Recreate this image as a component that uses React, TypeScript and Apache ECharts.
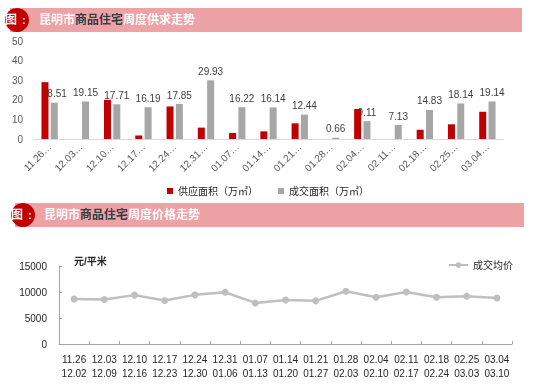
import React, { useEffect, useRef } from "react";
import * as echarts from "echarts";

const weekStarts = ["11.26", "12.03", "12.10", "12.17", "12.24", "12.31", "01.07", "01.14", "01.21", "01.28", "02.04", "02.11", "02.18", "02.25", "03.04"];
const weekEnds = ["12.02", "12.09", "12.16", "12.23", "12.30", "01.06", "01.13", "01.20", "01.27", "02.03", "02.10", "02.17", "02.24", "03.03", "03.10"];
const supplyArea = [29.0, 0, 20.0, 1.8, 16.6, 5.8, 3.1, 3.9, 8.0, 0, 15.3, 0, 4.7, 7.5, 13.9];
const dealArea = [18.51, 19.15, 17.71, 16.19, 17.85, 29.93, 16.22, 16.14, 12.44, 0.66, 9.11, 7.13, 14.83, 18.14, 19.14];
const avgPrice = [8650, 8550, 9400, 8350, 9450, 9950, 7900, 8450, 8300, 10150, 9000, 10000, 9000, 9200, 8850];

const FONT = "'Liberation Sans', 'Noto Sans CJK SC', sans-serif";
const BAND = "#eda2a6";
const DARKRED = "#c00000";

function header(x0: number, y0: number, x1: number, cx: number) {
  return [
    { type: "rect", shape: { x: x0, y: y0, width: x1 - x0, height: 24 }, style: { fill: BAND }, z: 1 },
    { type: "circle", shape: { cx: cx, cy: y0 + 12, r: 12 }, style: { fill: DARKRED }, z: 2 },
    { type: "text", x: cx - 6, y: y0 + 12, style: { text: "图", fill: "#fff", fontSize: 12, fontWeight: "bold", fontFamily: FONT, verticalAlign: "middle", align: "center" }, z: 3 },
    { type: "text", x: cx + 5, y: y0 + 12, style: { text: ":", fill: "#fff", fontSize: 11, fontWeight: "bold", fontFamily: FONT, verticalAlign: "middle", align: "left" }, z: 3 },
  ];
}

export default function App() {
  const ref = useRef<HTMLDivElement>(null);
  useEffect(() => {
    if (!ref.current) return;
    const chart = echarts.init(ref.current, null, { renderer: "svg" });
    const rich = {
      w: { color: "#ffffff", fontSize: 12, fontWeight: "bold", fontFamily: FONT },
      d: { color: "#2f3f44", fontSize: 12, fontWeight: "bold", fontFamily: FONT },
    };
    chart.setOption({
      animation: false,
      textStyle: { fontFamily: FONT },
      title: [
        { text: "{w|昆明市}{d|商品住宅}{w|周度供求走势}", left: 39, top: 14, padding: 0, textStyle: { rich } },
        { text: "{w|昆明市}{d|商品住宅}{w|周度价格走势}", left: 44, top: 209, padding: 0, textStyle: { rich } },
      ],
      graphic: [...header(10, 8, 522, 17), ...header(15, 203, 524, 23),
        { type: "text", x: 74, y: 261, style: { text: "元/平米", fill: "#262626", fontSize: 10, fontWeight: "bold", fontFamily: FONT, verticalAlign: "middle" } },
      ],
      legend: [
        {
          data: ["供应面积（万㎡）", "成交面积（万㎡）"],
          left: "center", top: 186, itemWidth: 6, itemHeight: 6, itemGap: 20, padding: 0,
          textStyle: { fontSize: 10, color: "#262626" }, icon: "rect",
        },
        {
          data: ["成交均价"], right: 23, top: 260, itemWidth: 19, itemHeight: 7, padding: 0,
          textStyle: { fontSize: 10, color: "#262626" },
        },
      ],
      grid: [
        { left: 34, right: 33, top: 41, height: 98 },
        { left: 59, right: 24, top: 266, height: 78 },
      ],
      xAxis: [
        {
          gridIndex: 0, type: "category", data: weekStarts.map((s) => s + "…"),
          axisLine: { lineStyle: { color: "#d9d9d9" } }, axisTick: { show: false },
          axisLabel: { rotate: 45, color: "#595959", fontSize: 10, margin: 6, interval: 0 },
        },
        {
          gridIndex: 1, type: "category", data: weekStarts.map((s, i) => s + "\n" + weekEnds[i]),
          axisLine: { lineStyle: { color: "#a6a6a6" } },
          axisTick: { show: true, inside: true, length: 3, lineStyle: { color: "#a6a6a6" } },
          axisLabel: { color: "#262626", fontSize: 10, margin: 8, lineHeight: 14, interval: 0 },
        },
      ],
      yAxis: [
        {
          gridIndex: 0, type: "value", min: 0, max: 50, interval: 10,
          axisLine: { show: false }, axisTick: { show: false }, splitLine: { show: false },
          axisLabel: { color: "#595959", fontSize: 10, margin: 11 },
        },
        {
          gridIndex: 1, type: "value", min: 0, max: 15000, interval: 5000,
          axisLine: { show: true, lineStyle: { color: "#a6a6a6" } },
          axisTick: { show: true, inside: true, length: 3, lineStyle: { color: "#a6a6a6" } },
          splitLine: { show: false },
          axisLabel: { color: "#262626", fontSize: 10, margin: 12, formatter: (v: number) => String(v) },
        },
      ],
      series: [
        {
          name: "供应面积（万㎡）", type: "bar", xAxisIndex: 0, yAxisIndex: 0, data: supplyArea,
          barWidth: 7, barGap: "33%", itemStyle: { color: DARKRED }, z: 3,
        },
        {
          name: "成交面积（万㎡）", type: "bar", xAxisIndex: 0, yAxisIndex: 0, data: dealArea,
          barWidth: 7, itemStyle: { color: "#a6a6a6" },
          label: { show: true, position: "top", distance: 4, color: "#404040", fontSize: 10 }, z: 2,
        },
        {
          name: "成交均价", type: "line", xAxisIndex: 1, yAxisIndex: 1, data: avgPrice,
          symbol: "circle", symbolSize: 7, lineStyle: { color: "#bfbfbf", width: 2.5 },
          itemStyle: { color: "#bfbfbf" },
        },
      ],
    });
    return () => chart.dispose();
  }, []);
  return <div ref={ref} style={{ position: "fixed", left: 0, top: 0, width: 536, height: 390 }} />;
}
